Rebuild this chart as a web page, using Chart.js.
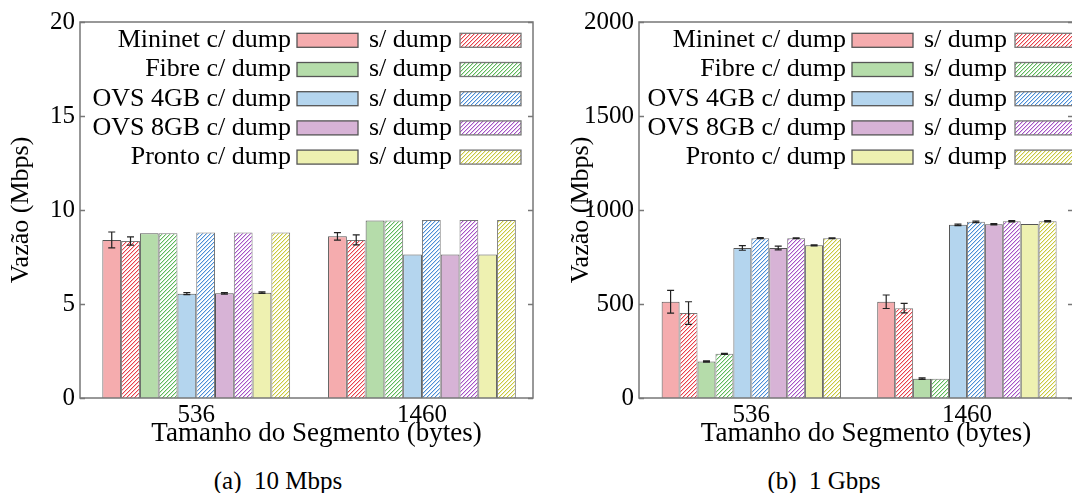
<!DOCTYPE html>
<html>
<head>
<meta charset="utf-8">
<script src="https://cdn.jsdelivr.net/npm/chart.js@4.4.0/dist/chart.umd.min.js"></script>
<style>
  html, body { margin: 0; padding: 0; background: #fff; overflow: hidden; }
  body { width: 1072px; height: 493px; position: relative; }
  .box { position: absolute; top: 0; height: 460px; }
  #boxA { left: 0; width: 545px; }
  #boxB { left: 560px; width: 530px; }
  .caption { position: absolute; top: 467px; font: 25px 'Liberation Serif', 'Times New Roman', serif; color: #000; white-space: pre; transform: translateX(-50%); }
</style>
</head>
<body>
<div class="box" id="boxA"><canvas id="chartA"></canvas></div>
<div class="box" id="boxB"><canvas id="chartB"></canvas></div>
<div class="caption" style="left:278px">(a)  10 Mbps</div>
<div class="caption" style="left:824px">(b)  1 Gbps</div>
<script>
const segmentos = ['536', '1460'];
const sistemas = ['Mininet', 'Fibre', 'OVS 4GB', 'OVS 8GB', 'Pronto'];
const yTicks10 = [0, 5, 10, 15, 20];
const yTicks1g = [0, 500, 1000, 1500, 2000];

// (a) 10 Mbps
const mininetCom10 = [8.41, 8.60];
const mininetSem10 = [8.35, 8.41];
const fibreCom10 = [8.76, 9.44];
const fibreSem10 = [8.76, 9.44];
const ovs4Com10 = [5.55, 7.63];
const ovs4Sem10 = [8.80, 9.47];
const ovs8Com10 = [5.57, 7.63];
const ovs8Sem10 = [8.80, 9.47];
const prontoCom10 = [5.60, 7.63];
const prontoSem10 = [8.80, 9.47];
// barras de erro (+/-)
const mininetCom10Err = [0.42, 0.20];
const mininetSem10Err = [0.22, 0.27];
const ovs4Com10Err = [0.05, 0];
const ovs8Com10Err = [0.04, 0];
const prontoCom10Err = [0.04, 0];

// (b) 1 Gbps
const mininetCom1g = [512, 512];
const mininetSem1g = [452, 478];
const fibreCom1g = [194, 103];
const fibreSem1g = [235, 102];
const ovs4Com1g = [798, 921];
const ovs4Sem1g = [850, 937];
const ovs8Com1g = [798, 924];
const ovs8Sem1g = [850, 940];
const prontoCom1g = [812, 926];
const prontoSem1g = [850, 940];
const mininetCom1gErr = [61, 36];
const mininetSem1gErr = [60, 25];
const fibreCom1gErr = [3, 4];
const fibreSem1gErr = [3, 0];
const ovs4Com1gErr = [12, 4];
const ovs4Sem1gErr = [3, 4];
const ovs8Com1gErr = [10, 3];
const ovs8Sem1gErr = [2, 3];
const prontoCom1gErr = [3, 0];
const prontoSem1gErr = [2, 3];

const fills = ['#f5acae', '#b5dcaa', '#b4d5ee', '#d7b3d6', '#eef1b1'];
const hatchLines = ['#e8404a', '#5cb85c', '#4a8cd6', '#a452c6', '#c8c83c'];
const hatchSoft = ['#f7c4c6', '#cde9c6', '#c8def3', '#e3c6ec', '#eeeec0'];
const FONT = "'Liberation Serif', 'Times New Roman', serif";

// trama diagonal "/" desenhada pixel a pixel
function hatch(i) {
    const c = document.createElement('canvas');
    c.width = 4; c.height = 4;
    const g = c.getContext('2d');
    g.fillStyle = '#fff';
    g.fillRect(0, 0, 4, 4);
    for (let k = 0; k < 4; k++) {
        g.fillStyle = hatchSoft[i];
        g.fillRect(k, (4 - k) % 4, 1, 1);
        g.fillStyle = hatchLines[i];
        g.fillRect(k, 3 - k, 1, 1);
    }
    return g.createPattern(c, 'repeat');
}
const patterns = sistemas.map((_, i) => hatch(i));

function buildDatasets(com, sem, errCom, errSem) {
    const sets = [];
    sistemas.forEach((s, i) => {
        sets.push({
            label: s + ' c/ dump',
            data: com[i].map((v, j) => ({ x: j, y: v })),
            err: errCom[i],
            backgroundColor: fills[i],
            borderColor: '#555',
            borderWidth: 1
        });
        sets.push({
            label: 's/ dump',
            data: sem[i].map((v, j) => ({ x: j, y: v })),
            err: errSem[i],
            backgroundColor: patterns[i],
            borderColor: '#777',
            borderWidth: 1
        });
    });
    return sets;
}

const figPlugin = {
    id: 'fig',
    afterDatasetsDraw(chart) {
        const ctx = chart.ctx;
        const y = chart.scales.y;
        ctx.save();
        ctx.strokeStyle = '#222';
        ctx.lineWidth = 1.2;
        chart.data.datasets.forEach((ds, i) => {
            if (!ds.err) return;
            chart.getDatasetMeta(i).data.forEach((el, j) => {
                const e = ds.err[j];
                if (!e) return;
                const v = ds.data[j].y;
                const top = y.getPixelForValue(v + e);
                const bot = y.getPixelForValue(v - e);
                ctx.beginPath();
                ctx.moveTo(el.x, top); ctx.lineTo(el.x, bot);
                ctx.moveTo(el.x - 3.5, top); ctx.lineTo(el.x + 3.5, top);
                ctx.moveTo(el.x - 3.5, bot); ctx.lineTo(el.x + 3.5, bot);
                ctx.stroke();
            });
        });
        ctx.restore();
    },
    afterDraw(chart, args, opts) {
        const ctx = chart.ctx;
        const a = chart.chartArea;
        ctx.save();
        // moldura e marcas internas
        ctx.strokeStyle = '#777';
        ctx.lineWidth = 1.5;
        ctx.strokeRect(a.left, a.top, a.right - a.left, a.bottom - a.top);
        chart.scales.y.ticks.forEach(t => {
            const py = Math.round(chart.scales.y.getPixelForValue(t.value)) + 0.5;
            ctx.beginPath();
            ctx.moveTo(a.left, py); ctx.lineTo(a.left + 5, py);
            ctx.moveTo(a.right, py); ctx.lineTo(a.right - 5, py);
            ctx.stroke();
        });
        // titulo do eixo x
        ctx.fillStyle = '#000';
        ctx.font = '27px ' + FONT;
        ctx.textAlign = 'center';
        ctx.textBaseline = 'middle';
        ctx.fillText('Tamanho do Segmento (bytes)', (a.left + a.right) / 2 + opts.titleShift, 434);
        // legenda
        ctx.font = '26px ' + FONT;
        const x0 = opts.legendX;
        sistemas.forEach((s, i) => {
            const cy = 40.3 + 29.2 * i;
            ctx.fillStyle = '#000';
            ctx.textAlign = 'right';
            ctx.fillText(s + ' c/ dump', x0 - 6, cy);
            ctx.textAlign = 'left';
            ctx.fillText('s/ dump', x0 + 72, cy);
            ctx.lineWidth = 1.3;
            ctx.fillStyle = fills[i];
            ctx.fillRect(x0, cy - 7, 61, 14);
            ctx.strokeStyle = '#555';
            ctx.strokeRect(x0, cy - 7, 61, 14);
            ctx.fillStyle = patterns[i];
            ctx.fillRect(x0 + 163, cy - 7, 61, 14);
            ctx.strokeStyle = '#777';
            ctx.strokeRect(x0 + 163, cy - 7, 61, 14);
        });
        ctx.restore();
    }
};

function makeChart(id, datasets, yTicks, cfg) {
    return new Chart(document.getElementById(id).getContext('2d'), {
        type: 'bar',
        data: { datasets: datasets },
        plugins: [figPlugin],
        options: {
            responsive: true,
            maintainAspectRatio: false,
            animation: false,
            devicePixelRatio: 1,
            categoryPercentage: 0.832,
            barPercentage: 1,
            layout: { padding: { top: 22, right: cfg.padRight, bottom: 0, left: 0 } },
            plugins: {
                legend: { display: false },
                tooltip: { enabled: false },
                fig: { legendX: cfg.legendX, titleShift: 10 }
            },
            scales: {
                x: {
                    type: 'linear',
                    offset: false,
                    min: cfg.xMin,
                    max: cfg.xMax,
                    grid: { display: false, drawTicks: false, offset: false },
                    border: { display: false },
                    afterBuildTicks: s => { s.ticks = segmentos.map((_, i) => ({ value: i })); },
                    afterFit: s => { s.height = 62; },
                    ticks: {
                        autoSkip: false,
                        maxRotation: 0,
                        padding: 2,
                        color: '#000',
                        font: { family: FONT, size: 25 },
                        callback: v => segmentos[v]
                    }
                },
                y: {
                    min: yTicks[0],
                    max: yTicks[yTicks.length - 1],
                    grid: { display: false, drawTicks: false },
                    border: { display: false },
                    afterBuildTicks: s => { s.ticks = yTicks.map(v => ({ value: v })); },
                    afterFit: s => { s.width = cfg.yWidth; },
                    ticks: {
                        padding: 5,
                        color: '#000',
                        font: { family: FONT, size: 25 },
                        callback: v => String(v)
                    },
                    title: {
                        display: true,
                        text: 'Vazão (Mbps)',
                        color: '#000',
                        font: { family: FONT, size: 26 },
                        padding: { top: 6, bottom: 0 }
                    }
                }
            }
        }
    });
}

const chartA = makeChart('chartA',
    buildDatasets(
        [mininetCom10, fibreCom10, ovs4Com10, ovs8Com10, prontoCom10],
        [mininetSem10, fibreSem10, ovs4Sem10, ovs8Sem10, prontoSem10],
        [mininetCom10Err, null, ovs4Com10Err, ovs8Com10Err, prontoCom10Err],
        [mininetSem10Err, null, null, null, null]),
    yTicks10,
    { xMin: -0.515, xMax: 1.492, yWidth: 80, padRight: 12, legendX: 297 });

const chartB = makeChart('chartB',
    buildDatasets(
        [mininetCom1g, fibreCom1g, ovs4Com1g, ovs8Com1g, prontoCom1g],
        [mininetSem1g, fibreSem1g, ovs4Sem1g, ovs8Sem1g, prontoSem1g],
        [mininetCom1gErr, fibreCom1gErr, ovs4Com1gErr, ovs8Com1gErr, prontoCom1gErr],
        [mininetSem1gErr, fibreSem1gErr, ovs4Sem1gErr, ovs8Sem1gErr, prontoSem1gErr]),
    yTicks1g,
    { xMin: -0.521, xMax: 1.492, yWidth: 79, padRight: 17, legendX: 292 });
</script>
</body>
</html>
